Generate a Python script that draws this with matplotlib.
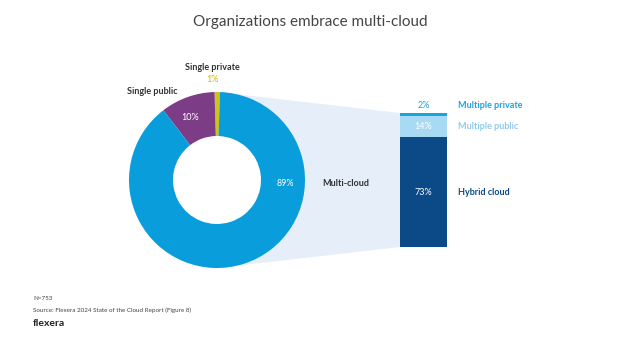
import matplotlib.pyplot as plt
from matplotlib.patches import Polygon, Circle

# data
pie_labels = ["Single private", "Single public", "Multi-cloud"]
pie_values = [1, 10, 89]
pie_colors = ["#cdc31b", "#7d3c86", "#0a9ddb"]

bar_labels = ["Hybrid cloud", "Multiple public", "Multiple private"]
bar_values = [73, 14, 2]
bar_colors = ["#0c4a87", "#a9daf3", "#1aa3e0"]
bar_text_colors = ["#0c4a87", "#8fcbe8", "#1aa3e0"]

title = "Organizations embrace multi-cloud"
note = "N=753"
source = "Source: Flexera 2024 State of the Cloud Report (Figure 8)"

plt.rcParams['font.family'] = ['Lato', 'DejaVu Sans']

W, H = 624, 343
fig = plt.figure(figsize=(W / 100, H / 100), dpi=100)
ax = fig.add_axes([0, 0, 1, 1])

cx, cy, r = 217, 163, 88
ring = 44
wedges, _ = ax.pie(pie_values, colors=pie_colors, startangle=88, counterclock=True,
                   center=(cx, cy), radius=r,
                   wedgeprops=dict(width=ring, edgecolor='none'))
for w in wedges:
    w.set_zorder(3)
ax.add_patch(Circle((cx, cy), r - ring, facecolor='white', edgecolor='none', zorder=2))

# stacked bar
scale = 134 / sum(bar_values)
bx, bw, by = 423.5, 47, 96
bottom = by
tops = []
for lab, v, c in zip(bar_labels, bar_values, bar_colors):
    ax.bar(bx, v * scale, width=bw, bottom=bottom, color=c, zorder=3)
    tops.append((bottom, bottom + v * scale))
    bottom += v * scale

# connecting band
band = Polygon([(cx, cy + r), (bx - bw / 2, bottom), (bx - bw / 2, by), (cx, cy - r)],
               closed=True, facecolor="#e5eef9", edgecolor='none', zorder=1)
ax.add_patch(band)

lab_kw = dict(fontsize=6.5, fontweight='bold', zorder=4, va='center')
pct_kw = dict(fontsize=6.5, zorder=4, va='center', ha='center')

# pie labels
ax.text(285, 343 - 184, f"{pie_values[2]}%", color='white', **pct_kw)
ax.text(190, 343 - 118, f"{pie_values[1]}%", color='white', **pct_kw)
ax.text(212, 343 - 80, f"{pie_values[0]}%", color='#c8be10', **pct_kw)
ax.text(212, 343 - 67, pie_labels[0], color='#333333', ha='center', **lab_kw)
ax.text(152, 343 - 91, pie_labels[1], color='#333333', ha='center', **lab_kw)
ax.text(322, 343 - 184, pie_labels[2], color='#333333', ha='left', **lab_kw)

# bar labels
(b0, t0), (b1, t1), (b2, t2) = tops
ax.text(bx, (b0 + t0) / 2, f"{bar_values[0]}%", color='white', **pct_kw)
ax.text(bx, (b1 + t1) / 2, f"{bar_values[1]}%", color='white', **pct_kw)
ax.text(bx, t2 + 7, f"{bar_values[2]}%", color=bar_text_colors[2], **pct_kw)
ax.text(458, (b0 + t0) / 2, bar_labels[0], color=bar_text_colors[0], ha='left', **lab_kw)
ax.text(458, (b1 + t1) / 2, bar_labels[1], color=bar_text_colors[1], ha='left', **lab_kw)
ax.text(458, t2 + 7, bar_labels[2], color=bar_text_colors[2], ha='left', **lab_kw)

# title and footer
ax.text(310, 343 - 22, title, color='#444444', fontsize=11, ha='center', va='center')
ax.text(33, 343 - 299, note, color='#444444', fontsize=4.5, ha='left', va='center')
ax.text(33, 343 - 310, source, color='#444444', fontsize=4.5, ha='left', va='center')
ax.text(33, 343 - 324, "flexera", color='#222222', fontsize=7.5, fontweight='bold',
        ha='left', va='center')

ax.set_xlim(0, W)
ax.set_ylim(0, H)
ax.set_aspect('auto')
ax.axis('off')

fig.savefig("out.png", dpi=100, facecolor='white')
